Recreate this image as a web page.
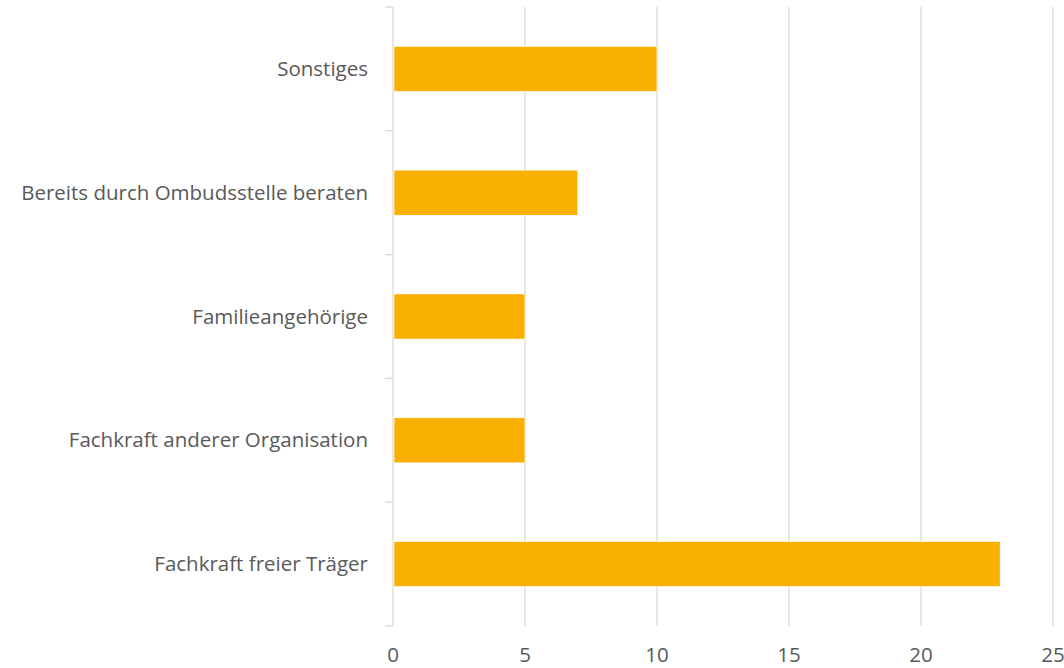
<!DOCTYPE html>
<html>
<head>
<meta charset="utf-8">
<script src="https://cdn.jsdelivr.net/npm/d3@7"></script>
<style>
  body { margin: 0; background: #fff; }
  text { font-family: "Open Sans", sans-serif; fill: #595959; }
</style>
</head>
<body>
<div class="chart"></div>
<script>
// data
const categories = [
  "Sonstiges",
  "Bereits durch Ombudsstelle beraten",
  "Familieangehörige",
  "Fachkraft anderer Organisation",
  "Fachkraft freier Träger",
];
const values = [10, 7, 5, 5, 23];
const xTicks = [0, 5, 10, 15, 20, 25];

// dimensions
const width = 1064;
const height = 668;
const margin = { top: 7, right: 11, bottom: 42, left: 393 };

const svg = d3
  .select(".chart")
  .append("svg")
  .attr("width", width)
  .attr("height", height);

const x = d3
  .scaleLinear()
  .domain([0, 25])
  .range([margin.left, width - margin.right]);

const y = d3
  .scaleBand()
  .domain(categories)
  .range([margin.top, height - margin.bottom])
  .padding(0);

const barH = y.bandwidth() * 0.365;

// gridlines
svg
  .append("g")
  .selectAll("line")
  .data(xTicks.slice(1))
  .enter()
  .append("line")
  .attr("x1", (d) => x(d))
  .attr("x2", (d) => x(d))
  .attr("y1", margin.top)
  .attr("y2", height - margin.bottom)
  .attr("stroke", "#d9d9d9")
  .attr("stroke-width", 1.3);

// bars
svg
  .append("g")
  .selectAll("rect")
  .data(values)
  .enter()
  .append("rect")
  .attr("x", x(0) + 1)
  .attr("y", (d, i) => y(categories[i]) + (y.bandwidth() - barH) / 2)
  .attr("width", (d) => x(d) - x(0) - 1)
  .attr("height", barH)
  .attr("fill", "#f9b000")
  .attr("stroke", "#fff")
  .attr("stroke-width", 0.7);

// y axis with ticks at band boundaries
const yAxis = svg.append("g");
yAxis
  .append("line")
  .attr("x1", x(0))
  .attr("x2", x(0))
  .attr("y1", margin.top)
  .attr("y2", height - margin.bottom)
  .attr("stroke", "#d9d9d9")
  .attr("stroke-width", 1.3);

const bounds = categories.map((c) => y(c)).concat([height - margin.bottom]);
yAxis
  .selectAll(".tick")
  .data(bounds)
  .enter()
  .append("line")
  .attr("x1", x(0) - 8)
  .attr("x2", x(0))
  .attr("y1", (d) => d)
  .attr("y2", (d) => d)
  .attr("stroke", "#d9d9d9")
  .attr("stroke-width", 1.3);

// category labels
svg
  .append("g")
  .selectAll("text")
  .data(categories)
  .enter()
  .append("text")
  .attr("x", x(0) - 25)
  .attr("y", (d) => y(d) + y.bandwidth() / 2)
  .attr("dy", "0.35em")
  .attr("text-anchor", "end")
  .style("font-size", "20.5px")
  .text((d) => d);

// x tick labels
svg
  .append("g")
  .selectAll("text")
  .data(xTicks)
  .enter()
  .append("text")
  .attr("x", (d) => x(d))
  .attr("y", 662)
  .attr("text-anchor", "middle")
  .style("font-size", "20.5px")
  .text((d) => d);
</script>
</body>
</html>
